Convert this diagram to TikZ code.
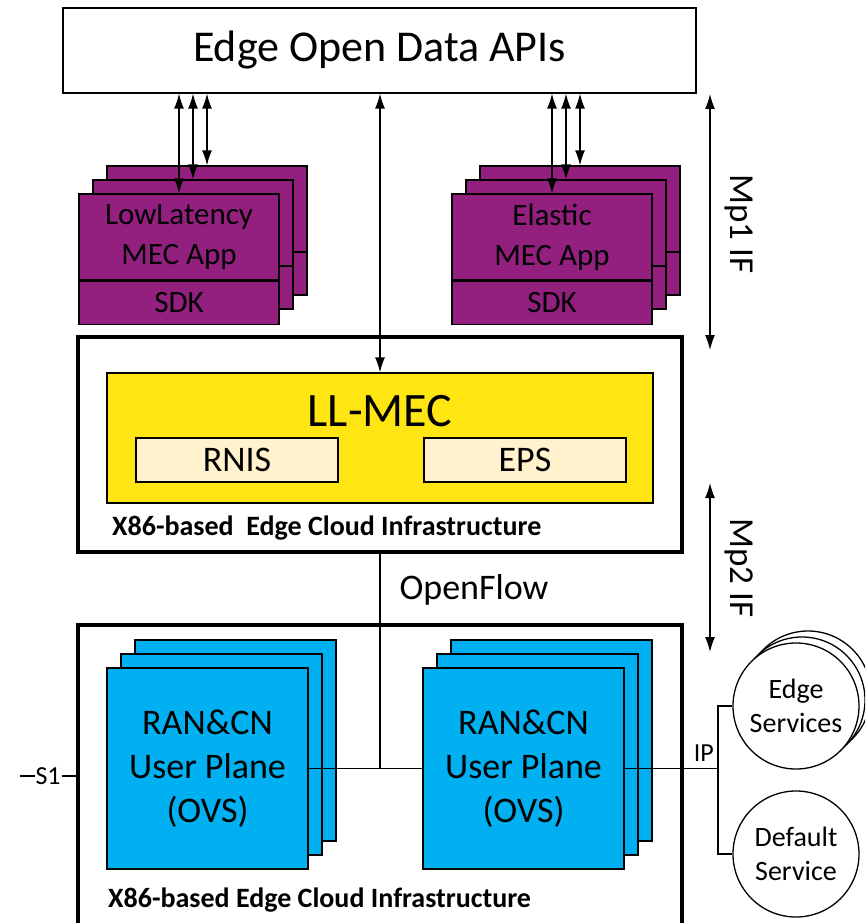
\documentclass[tikz,border=0pt]{standalone}
\usepackage{fontspec}
\setmainfont{Carlito}
\usetikzlibrary{arrows.meta, positioning}
\definecolor{apppurple}{HTML}{931F7F}
\definecolor{ranblue}{HTML}{00B0F0}
\definecolor{mecyellow}{HTML}{FFE512}
\definecolor{svccream}{HTML}{FFF2CC}
\tikzstyle{block}=[draw,rectangle,line width=1.3pt,inner sep=0pt,align=center]
\tikzstyle{link}=[line width=1.3pt]
\tikzstyle{appback}=[block,fill=apppurple,minimum width=200pt,minimum height=129pt,
  path picture={\draw[line width=1.3pt] ([yshift=43pt]path picture bounding box.south west) -- ([yshift=43pt]path picture bounding box.south east);}]
\tikzstyle{appmain}=[block,fill=apppurple,minimum width=200pt,minimum height=86pt,font=\fontsize{31}{40}\selectfont]
\tikzstyle{appsdk}=[block,fill=apppurple,minimum width=200pt,minimum height=43pt,font=\fontsize{31}{40}\selectfont]
\tikzstyle{ranbox}=[block,fill=ranblue,minimum width=201pt,minimum height=201pt,font=\fontsize{36}{44}\selectfont]
\tikzstyle{infra}=[draw,rectangle,line width=3.5pt,fill=white,inner sep=0pt]
\tikzstyle{infralabel}=[anchor=west,inner sep=0pt,font=\bfseries\fontsize{28}{34}\selectfont]
\tikzstyle{svcbox}=[block,fill=svccream,minimum width=202pt,minimum height=44pt,font=\fontsize{36}{44}\selectfont]
\tikzstyle{svccircle}=[draw,circle,line width=1.3pt,fill=white,minimum size=126pt,inner sep=0pt,align=center,font=\fontsize{28}{34}\selectfont]
\tikzstyle{iflabel}=[rotate=-90,inner sep=0pt,font=\fontsize{35}{42}\selectfont]

\begin{document}
\begin{tikzpicture}[x=1pt,y=-1pt,>={Latex[length=15pt,width=10pt]}]
    \useasboundingbox (0,0) rectangle (865,923);
    \clip (0,0) rectangle (865,923);

    \node[block, minimum width=633pt, minimum height=85pt, font=\fontsize{44}{53}\selectfont] (apis) at (379.5,50.5) {Edge Open Data APIs};

    % MEC apps
    \foreach \x/\n in {179/low, 552/ela} {
        \node[appback] (\n-back) at (\x+28,230.5) {};
        \node[appback] (\n-mid) at (\x+14,244.5) {};
    }
    \node[appmain] (lowapp) at (179,237) {LowLatency\\MEC App};
    \node[appsdk, below=0pt of lowapp] (lowsdk) {SDK};
    \node[appmain] (elaapp) at (552,237) {Elastic\\MEC App};
    \node[appsdk, below=0pt of elaapp] (elasdk) {SDK};
    \foreach \n in {lowapp, low-mid, low-back, elaapp, ela-mid, ela-back}
        \draw[link, <->] (apis.south -| \n.north) -- (\n.north);

    % LL-MEC
    \node[infra, minimum width=604pt, minimum height=215pt] (upinfra) at (380,444.5) {};
    \node[block, fill=mecyellow, minimum width=546pt, minimum height=130pt] (llmec) at (380,438) {};
    \node[font=\fontsize{48}{58}\selectfont] (llmectitle) at (380,411) {LL-MEC};
    \node[svcbox] (rnis) at (237,460) {RNIS};
    \node[svcbox] (eps) at (525,460) {EPS};
    \node[infralabel] (uplabel) at (112,528) {X86-based\ \ Edge Cloud Infrastructure};
    \draw[link, <->] (apis.south -| llmec.north) -- (llmec.north);

    % user plane
    \node[infra, minimum width=604pt, minimum height=320pt] (lowinfra) at (380,785) {};
    \foreach \x/\n in {207.5/ranL, 523.5/ranR} {
        \node[ranbox] (\n-back) at (\x+28,740.5) {};
        \node[ranbox] (\n-mid) at (\x+14,754.5) {};
        \node[ranbox] (\n) at (\x,768.5) {RAN\&CN\\User Plane\\(OVS)};
    }
    \node[infralabel] (lowlabel) at (108,900) {X86-based Edge Cloud Infrastructure};
    \coordinate (ofjoin) at (upinfra.south |- ranL.east);
    \draw[link] (ranL.east) -- (ranR.west);
    \draw[link] (upinfra.south) -- (ofjoin);
    \node[font=\fontsize{36}{44}\selectfont] (oflabel) at (474,590) {OpenFlow};

    % S1
    \coordinate (s1end) at (20,776);
    \draw[link] (s1end) -- node[fill=white, inner sep=1pt, font=\fontsize{26}{31}\selectfont] (s1label) {S1} (s1end -| lowinfra.west);

    % services
    \foreach \d in {12,6}
        \node[svccircle] (edge-\d) at (796+\d,706-\d) {};
    \node[svccircle] (edgesrv) at (796,706) {Edge\\Services};
    \node[svccircle] (defsrv) at (796,854) {Default\\Service};
    \coordinate (ipbus) at (718,768.5);
    \draw[link] (ranR.east) -- (ipbus);
    \node[anchor=south east, inner sep=0pt, font=\fontsize{26}{31}\selectfont] (iplabel) at (714,762) {IP};
    \draw[link] (edgesrv.west) -| (ipbus);
    \draw[link] (defsrv.west) -| (ipbus);

    % interfaces
    \coordinate (mp1top) at (710,94);
    \coordinate (mp1bot) at (710,350);
    \coordinate (mp2top) at (710,483);
    \coordinate (mp2bot) at (710,652);
    \draw[link, <->] (mp1top) -- (mp1bot);
    \draw[link, <->] (mp2top) -- (mp2bot);
    \node[iflabel] (mp1label) at (739,224) {Mp1 IF};
    \node[iflabel] (mp2label) at (739,568) {Mp2 IF};
\end{tikzpicture}
\end{document}
